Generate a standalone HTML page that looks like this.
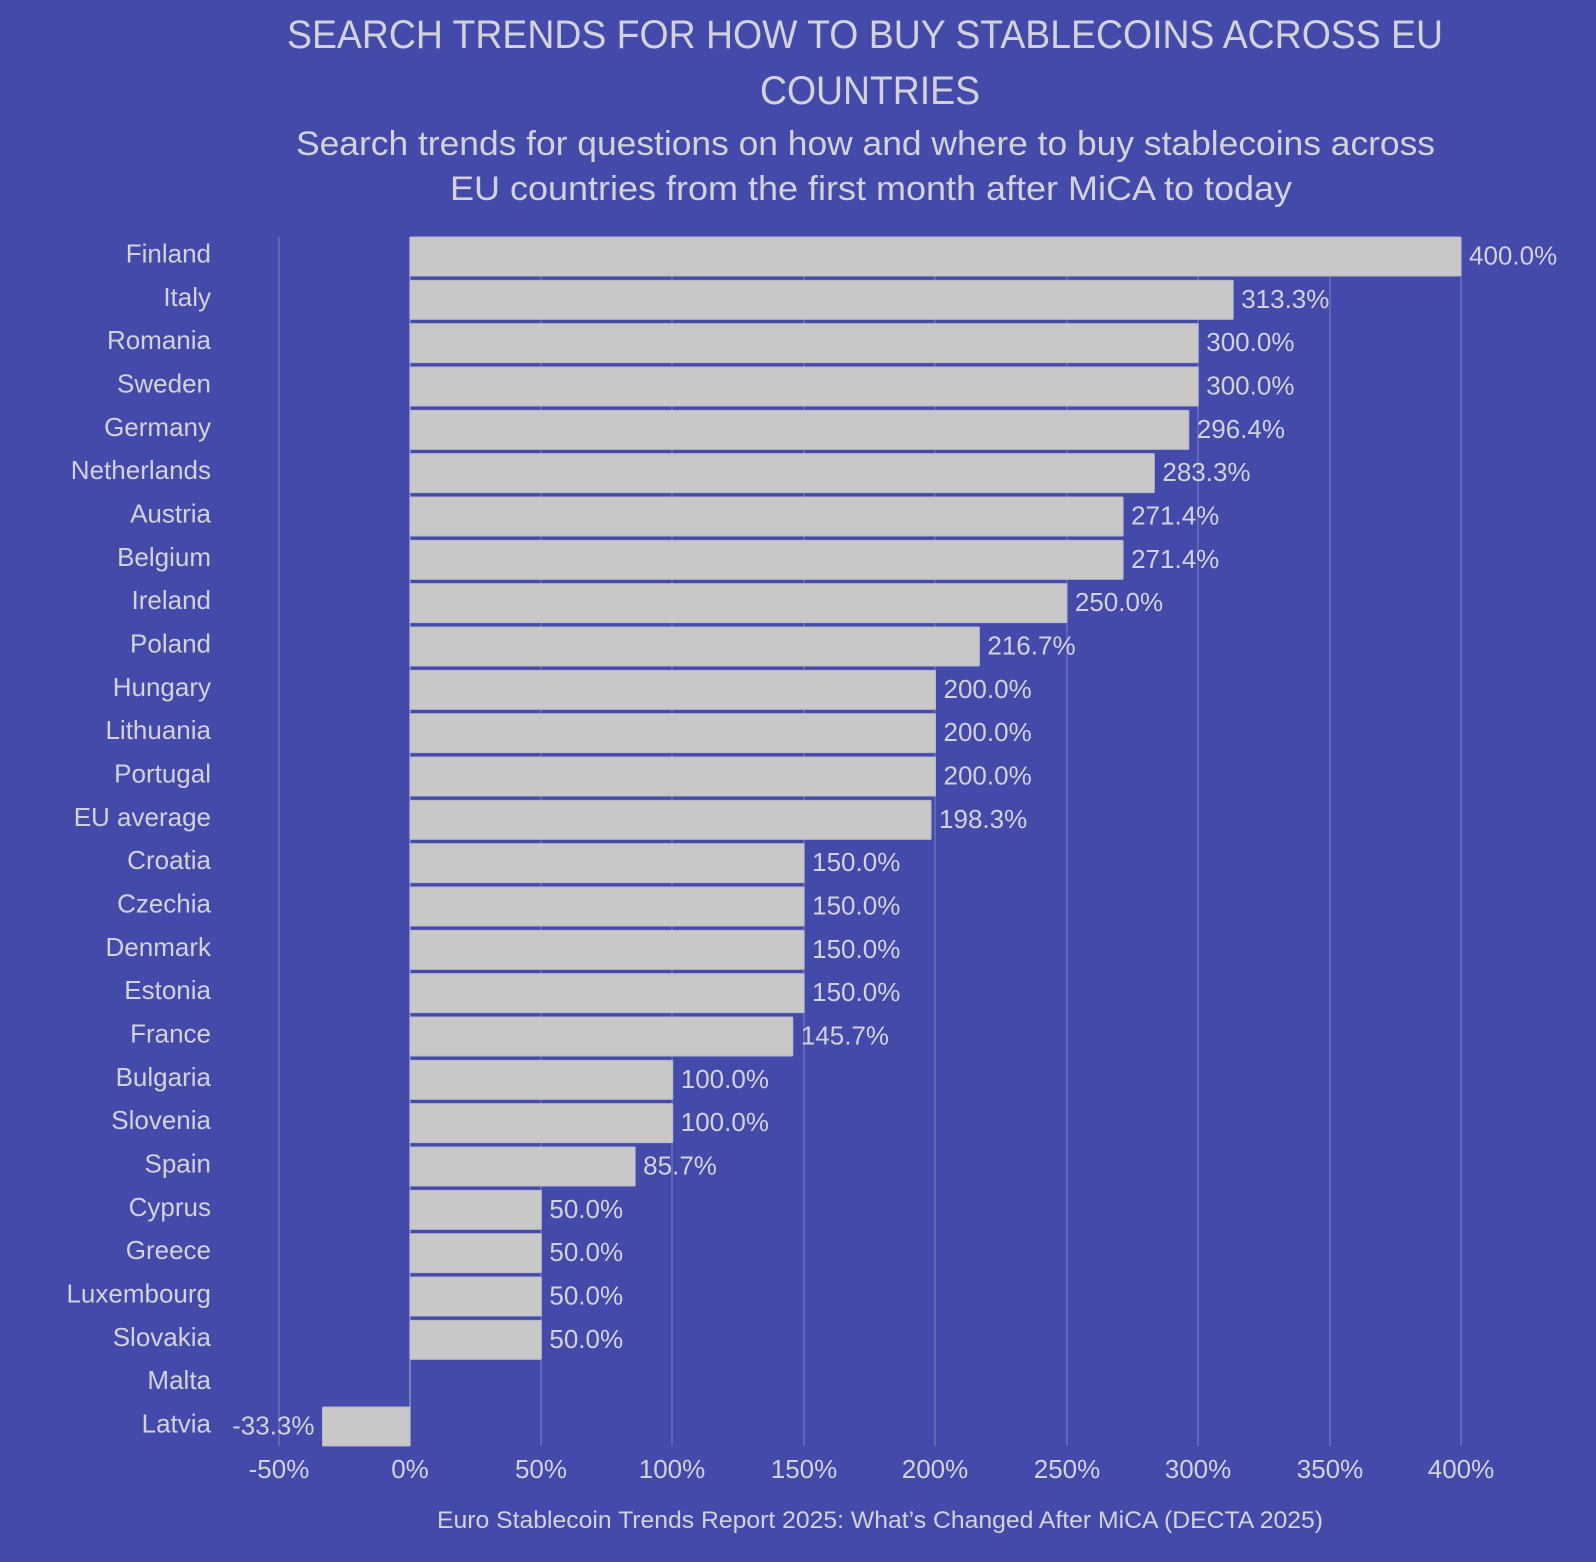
<!DOCTYPE html>
<html><head><meta charset="utf-8"><style>
html,body{margin:0;padding:0;background:#434aaa;}
svg{display:block;}
text{font-family:"Liberation Sans",sans-serif;fill:#d2d2d8;}
</style></head><body>
<svg width="1596" height="1562" viewBox="0 0 1596 1562" xmlns="http://www.w3.org/2000/svg">
<rect width="1596" height="1562" fill="#434aaa"/>
<text x="287" y="48" font-size="40" textLength="1156" lengthAdjust="spacingAndGlyphs">SEARCH TRENDS FOR HOW TO BUY STABLECOINS ACROSS EU</text>
<text x="760" y="104" font-size="40" textLength="220" lengthAdjust="spacingAndGlyphs">COUNTRIES</text>
<text x="296" y="155" font-size="34" textLength="1139" lengthAdjust="spacingAndGlyphs">Search trends for questions on how and where to buy stablecoins across</text>
<text x="450" y="200" font-size="34" textLength="842" lengthAdjust="spacingAndGlyphs">EU countries from the first month after MiCA to today</text>
<g stroke="#6a70bb" stroke-width="1.5">
<line x1="279" y1="237" x2="279" y2="1446"/>
<line x1="541" y1="237" x2="541" y2="1446"/>
<line x1="672" y1="237" x2="672" y2="1446"/>
<line x1="804" y1="237" x2="804" y2="1446"/>
<line x1="935" y1="237" x2="935" y2="1446"/>
<line x1="1067" y1="237" x2="1067" y2="1446"/>
<line x1="1198" y1="237" x2="1198" y2="1446"/>
<line x1="1330" y1="237" x2="1330" y2="1446"/>
<line x1="1461" y1="237" x2="1461" y2="1446"/>
</g>
<line x1="410" y1="237" x2="410" y2="1446" stroke="#8a8fcc" stroke-width="1.5"/>
<g id="bars"></g>
<g font-size="26" text-anchor="middle">
<text x="279" y="1478">-50%</text><text x="410" y="1478">0%</text><text x="541" y="1478">50%</text>
<text x="672" y="1478">100%</text><text x="804" y="1478">150%</text><text x="935" y="1478">200%</text>
<text x="1067" y="1478">250%</text><text x="1198" y="1478">300%</text><text x="1330" y="1478">350%</text>
<text x="1461" y="1478">400%</text>
</g>
<text x="880" y="1528" font-size="24" text-anchor="middle" textLength="886" lengthAdjust="spacingAndGlyphs">Euro Stablecoin Trends Report 2025: What’s Changed After MiCA (DECTA 2025)</text>
<script>
var d=[["Finland",400],["Italy",313.3],["Romania",300],["Sweden",300],["Germany",296.4],["Netherlands",283.3],["Austria",271.4],["Belgium",271.4],["Ireland",250],["Poland",216.7],["Hungary",200],["Lithuania",200],["Portugal",200],["EU average",198.3],["Croatia",150],["Czechia",150],["Denmark",150],["Estonia",150],["France",145.7],["Bulgaria",100],["Slovenia",100],["Spain",85.7],["Cyprus",50],["Greece",50],["Luxembourg",50],["Slovakia",50],["Malta",null],["Latvia",-33.3]];
var ns="http://www.w3.org/2000/svg",g=document.getElementById("bars");
function el(t,a,txt){var e=document.createElementNS(ns,t);for(var k in a)e.setAttribute(k,a[k]);if(txt!=null)e.textContent=txt;g.appendChild(e);return e;}
var p=1170/27;
d.forEach(function(r,i){
 var top=237+i*p, cy=top+19.5;
 el("text",{x:211,y:cy+6,"font-size":26,"text-anchor":"end"},r[0]);
 if(r[1]===null)return;
 var x=410+r[1]*2.6275;
 var x0=Math.min(410,x),w=Math.abs(x-410);
 el("rect",{x:x0,y:top,width:w,height:39,fill:"#c8c8c8",stroke:"#b8b8c8","stroke-width":1,rx:1});
 var lab=r[1].toFixed(1)+"%";
 if(r[1]>=0) el("text",{x:x+8,y:cy+8,"font-size":26},lab);
 else el("text",{x:x-8,y:cy+8,"font-size":26,"text-anchor":"end"},lab);
});
</script>
</svg>
</body></html>
